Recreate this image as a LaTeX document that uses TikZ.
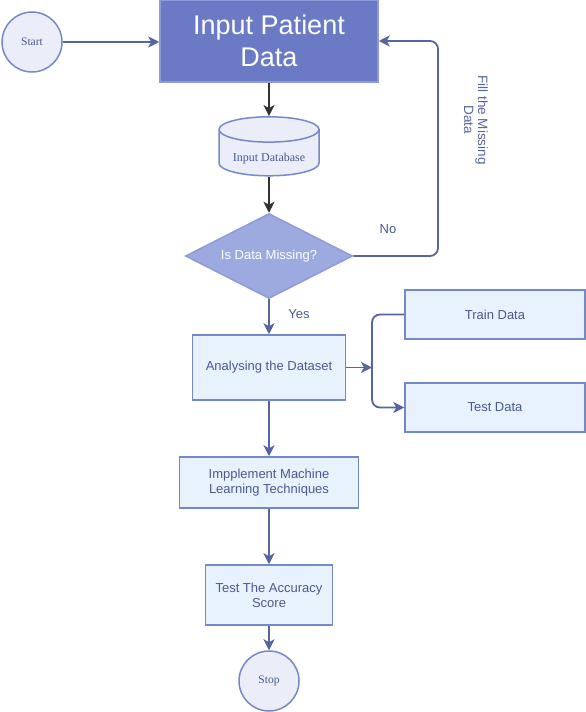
\documentclass[tikz,border=0pt]{standalone}
\usepackage{fontspec}
\setmainfont{Liberation Sans}
\newfontfamily\serifx{Liberation Serif}
\usetikzlibrary{shapes.geometric,arrows.meta}
\definecolor{linec}{HTML}{56659F}
\definecolor{boxb}{HTML}{7588C8}
\definecolor{boxf}{HTML}{E8F2FC}
\definecolor{txtc}{HTML}{4A5A90}
\definecolor{headf}{HTML}{6B7AC4}
\definecolor{headb}{HTML}{8E9BD6}
\definecolor{diaf}{HTML}{9DAADF}
\definecolor{circf}{HTML}{EBEDF8}
\definecolor{darkl}{HTML}{333333}
\begin{document}
\begin{tikzpicture}[x=1pt,y=-1pt,
  conn/.style={draw=linec,line width=1.8pt,-{Stealth[length=11pt,width=11pt,inset=3pt]}},
  darkconn/.style={draw=darkl,line width=1.8pt,-{Stealth[length=11pt,width=11pt,inset=3pt]}},
  procbox/.style={draw=boxb,fill=boxf,line width=1.5pt,text=txtc,font=\fontsize{13}{15}\selectfont,align=center,inner sep=0pt},
  termc/.style={circle,draw=boxb,fill=circf,line width=1.5pt,text=txtc,font=\serifx\fontsize{11.5}{13}\selectfont,minimum size=60pt,inner sep=0pt},
  lbl/.style={text=txtc,font=\fontsize{13}{15}\selectfont}]
\useasboundingbox (0,0) rectangle (586,712);
\node[termc] (start) at (32,42) {Start};
\node[draw=headb,fill=headf,line width=1.5pt,text=white,font=\fontsize{27}{32}\selectfont,align=center,minimum width=218pt,minimum height=82pt,inner sep=0pt] (input) at (269,41) {Input Patient\\Data};
\node[cylinder,shape border rotate=90,aspect=0.35,draw=boxb,fill=circf,line width=1.5pt,text=txtc,font=\serifx\fontsize{12}{14}\selectfont,minimum width=100pt,minimum height=59pt,inner sep=0pt] (db) at (269,153) {\raisebox{-8pt}[0pt][0pt]{Input Database}};
\node[diamond,aspect=1.96,draw=headb,fill=diaf,line width=1.5pt,text=white,font=\fontsize{13}{15}\selectfont,minimum width=167pt,minimum height=85pt,inner sep=0pt] (dia) at (269,256) {Is Data Missing?};
\node[procbox,minimum width=153pt,minimum height=65pt] (ana) at (269,367.5) {Analysing the Dataset};
\node[procbox,minimum width=180pt,minimum height=49pt] (train) at (495,314.5) {Train Data};
\node[procbox,minimum width=180pt,minimum height=49pt] (test) at (495,407.5) {Test Data};
\node[procbox,minimum width=179pt,minimum height=51pt] (impl) at (269,482.5) {Impplement Machine\\Learning Techniques};
\node[procbox,minimum width=127pt,minimum height=60pt] (acc) at (269,595) {Test The Accuracy\\Score};
\node[termc] (stop) at (269,681) {Stop};
\coordinate (split) at (372,367.5);
\coordinate (nocorner) at (438,256);
\node[lbl] (nolbl) at (388,229) {No};
\node[lbl] (yeslbl) at (299,314) {Yes};
\node[text=linec,font=\fontsize{13.5}{14}\selectfont,align=center,rotate=-90] (fill) at (476,120) {Fill the Missing\\Data};
\draw[conn] (start) -- (input.west |- start);
\draw[darkconn] (input.south) -- (db.top);
\draw[darkconn] (db.bottom) -- (dia.north);
\draw[conn,rounded corners=8pt] (dia.east) -- (nocorner) -- (nocorner |- input.east) -- (input.east);
\draw[conn] (dia.south) -- (ana.north);
\draw[conn] (ana.east) -- (split);
\draw[conn,rounded corners=8pt] (train.west) -- (split |- train.west) -- (split |- test.west) -- (test.west);
\draw[conn] (ana.south) -- (impl.north);
\draw[conn] (impl.south) -- (acc.north);
\draw[conn] (acc.south) -- (stop.north);
\end{tikzpicture}
\end{document}
